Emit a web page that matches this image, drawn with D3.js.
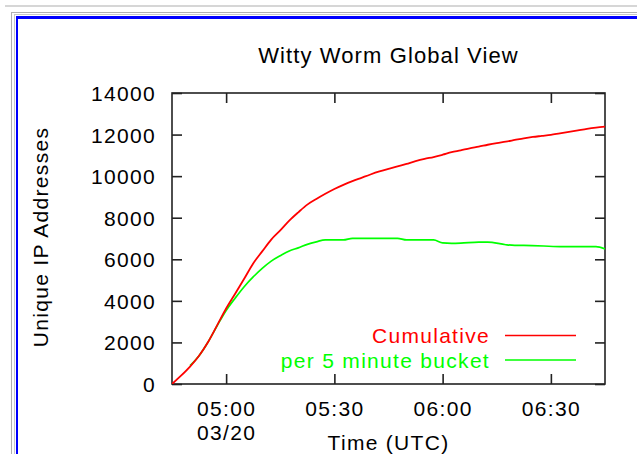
<!DOCTYPE html>
<html><head><meta charset="utf-8">
<script src="https://cdn.jsdelivr.net/npm/d3@7/dist/d3.min.js"></script>
<style>
html,body{margin:0;padding:0;background:#fff;overflow:hidden;}
svg{display:block;}
text{font-family:"Liberation Sans",Arial,Helvetica,sans-serif;font-size:21px;letter-spacing:1.3px;fill:#000;}
</style></head><body><svg id="c" width="637" height="454"></svg>
<script>
// ---- data ----
const title = "Witty Worm Global View";
const xTitle = "Time (UTC)";
const yTitle = "Unique IP Addresses";
const dateLabel = "03/20";
const xTickLabels = ["05:00","05:30","06:00","06:30"];
const yTickValues = [0,2000,4000,6000,8000,10000,12000,14000];
const xDomain = ["04:45:00","06:45:00"];
const yDomain = [0,14000];
const seriesNames = ["Cumulative","per 5 minute bucket"];
const seriesColors = ["#ff0000","#00ff00"];

const cumulativeTimes = ["04:45:00","04:47:30","04:50:00","04:52:30","04:55:00","04:57:30","05:00:00","05:02:30","05:05:00","05:07:30","05:10:00","05:12:30","05:15:00","05:17:30","05:20:00","05:22:30","05:25:00","05:27:30","05:30:00","05:32:30","05:35:00","05:37:30","05:40:00","05:42:30","05:45:00","05:47:30","05:50:00","05:52:30","05:55:00","05:57:30","06:00:00","06:02:30","06:05:00","06:07:30","06:10:00","06:12:30","06:15:00","06:17:30","06:20:00","06:22:30","06:25:00","06:27:30","06:30:00","06:32:30","06:35:00","06:37:30","06:40:00","06:42:30","06:45:00"];
const cumulativeValues = [0,400,840,1360,2020,2820,3630,4340,5060,5800,6380,6950,7390,7860,8260,8630,8900,9150,9380,9580,9760,9920,10080,10225,10350,10465,10590,10720,10830,10920,11030,11150,11240,11340,11420,11510,11590,11660,11740,11820,11885,11935,11985,12060,12130,12200,12270,12330,12380];

const bucketTimes = ["04:50:00","04:52:30","04:55:00","04:57:30","05:00:00","05:02:30","05:05:00","05:07:30","05:10:00","05:12:30","05:15:00","05:17:30","05:20:00","05:22:30","05:25:00","05:27:30","05:30:00","05:32:30","05:35:00","05:40:00","05:45:00","05:47:30","05:50:00","05:55:00","05:57:30","06:00:00","06:02:30","06:05:00","06:10:00","06:12:30","06:17:30","06:20:00","06:22:30","06:32:30","06:35:00","06:42:30","06:45:00"];
const bucketValues = [880,1360,2020,2800,3540,4130,4680,5150,5560,5910,6170,6400,6550,6720,6840,6930,6930,6930,7010,7010,7010,7010,6930,6930,6930,6790,6770,6780,6830,6830,6700,6670,6670,6610,6605,6605,6500];

// ---- chart ----
const svg = d3.select("#c");
const parse = d3.timeParse("%H:%M:%S");
const parseHM = d3.timeParse("%H:%M");
const L = 172, R = 605, T = 93, B = 384;
const x = d3.scaleTime().domain(xDomain.map(parse)).range([L, R]);
const y = d3.scaleLinear().domain(yDomain).range([B, T]);

// page decoration (frame around the image)
svg.append("rect").attr("x",0).attr("y",0).attr("width",637).attr("height",454).attr("fill","#fff");
svg.append("rect").attr("x",5).attr("y",5).attr("width",640).attr("height",2).attr("fill","#d6d6d6");
svg.append("rect").attr("x",11).attr("y",12).attr("width",640).attr("height",1).attr("fill","#b0b0b0");
svg.append("rect").attr("x",11).attr("y",12).attr("width",1).attr("height",450).attr("fill","#b0b0b0");
svg.append("rect").attr("x",14).attr("y",14).attr("width",1).attr("height",450).attr("fill","#c8c8c8");
svg.append("rect").attr("x",14).attr("y",14).attr("width",640).attr("height",1).attr("fill","#c8c8c8");
svg.append("rect").attr("x",16).attr("y",16).attr("width",640).attr("height",3).attr("fill","#0000ff");
svg.append("rect").attr("x",16).attr("y",16).attr("width",2).attr("height",450).attr("fill","#0000ff");

// axes
const xTicks = xTickLabels.map(parseHM).map(d => { const t = new Date(x.domain()[0]); t.setHours(d.getHours(), d.getMinutes(), 0); return t; });
const fmt = d3.timeFormat("%H:%M");
const axisColor = "#222";

const gxB = svg.append("g").attr("transform", `translate(0,${B})`)
  .call(d3.axisBottom(x).tickValues(xTicks).tickSize(-10).tickFormat(fmt));
const gxT = svg.append("g").attr("transform", `translate(0,${T})`)
  .call(d3.axisTop(x).tickValues(xTicks).tickSize(-10).tickFormat(""));
const gyL = svg.append("g").attr("transform", `translate(${L},0)`)
  .call(d3.axisLeft(y).tickValues(yTickValues).tickSize(-10).tickFormat(d3.format("d")));
const gyR = svg.append("g").attr("transform", `translate(${R},0)`)
  .call(d3.axisRight(y).tickValues(yTickValues).tickSize(-10).tickFormat(""));

[gxB,gxT,gyL,gyR].forEach(g => {
  g.select(".domain").remove();
  g.selectAll(".tick line").attr("stroke", axisColor).attr("stroke-width", 1.6);
  g.selectAll("text").attr("font-family", null).attr("font-size", null).attr("fill","#000");
});
gxB.selectAll(".tick text").attr("y", 32).attr("dy", 0);
gxB.select(".tick text").each(function(){
  d3.select(this.parentNode).append("text").attr("y", 56).attr("text-anchor","middle").attr("fill","#000").text(dateLabel);
});
gyL.selectAll(".tick text").attr("x", -16).attr("dy", "0.36em");

// frame
svg.append("rect").attr("x", L).attr("y", T).attr("width", R - L).attr("height", B - T)
  .attr("fill", "none").attr("stroke", axisColor).attr("stroke-width", 1.6);

// series
const clip = svg.append("clipPath").attr("id","clp").append("rect")
  .attr("x", L).attr("y", T).attr("width", R - L).attr("height", B - T);
const line = d3.line().curve(d3.curveMonotoneX).x(d => x(d[0])).y(d => y(d[1]));
const cumData = cumulativeTimes.map((t,i) => [parse(t), cumulativeValues[i]]);
const bucketData = bucketTimes.map((t,i) => [parse(t), bucketValues[i]]);
svg.append("path").datum(bucketData).attr("d", line).attr("fill","none")
  .attr("stroke", seriesColors[1]).attr("stroke-width", 1.7).attr("clip-path","url(#clp)");
svg.append("path").datum(cumData).attr("d", line).attr("fill","none")
  .attr("stroke", seriesColors[0]).attr("stroke-width", 1.8).attr("clip-path","url(#clp)");

// legend
const legY = [335.5, 360];
seriesNames.forEach((n,i) => {
  svg.append("text").attr("x", 490).attr("y", legY[i] + 7.5).attr("text-anchor","end")
    .attr("fill", seriesColors[i]).style("fill", seriesColors[i]).text(n);
  svg.append("line").attr("x1", 505).attr("x2", 576).attr("y1", legY[i]).attr("y2", legY[i])
    .attr("stroke", seriesColors[i]).attr("stroke-width", 1.6);
});

// titles
svg.append("text").attr("x", (L + R) / 2).attr("y", 63).attr("text-anchor","middle")
  .style("font-size","22px").style("letter-spacing","1.1px").text(title);
svg.append("text").attr("x", (L + R) / 2).attr("y", 450).attr("text-anchor","middle").text(xTitle);
svg.append("text").attr("transform", "translate(48,237) rotate(-90)").attr("text-anchor","middle").text(yTitle);
</script></body></html>
